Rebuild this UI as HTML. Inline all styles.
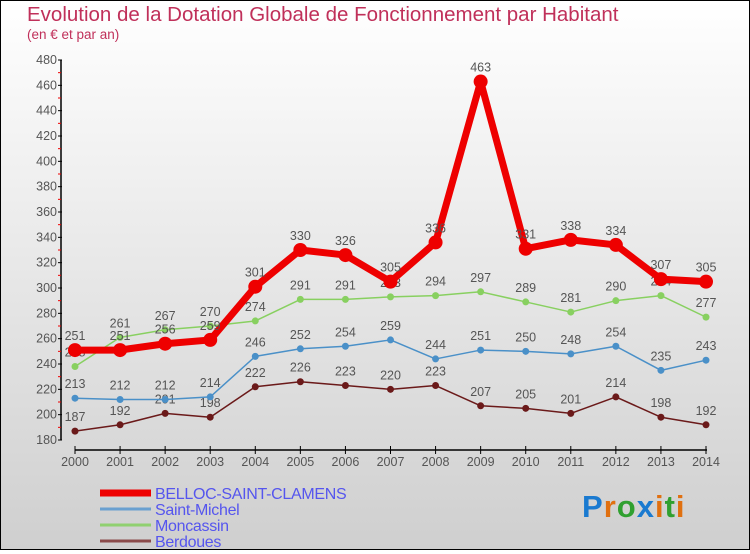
<!DOCTYPE html>
<html><head><meta charset="utf-8"><style>
html,body{margin:0;padding:0}
body{width:750px;height:550px;overflow:hidden;font-family:"Liberation Sans",sans-serif}
#wrap{position:relative;width:748px;height:548px;border:1px solid #000;background:linear-gradient(#ffffff,#cfcfcf)}
</style></head><body>
<div id="wrap">
<svg id="chart" width="748" height="548" viewBox="1 1 748 548"></svg>
</div>
<script>
const years=[2000,2001,2002,2003,2004,2005,2006,2007,2008,2009,2010,2011,2012,2013,2014];
const belloc=[251,251,256,259,301,330,326,305,336,463,331,338,334,307,305];
const stMichel=[213,212,212,214,246,252,254,259,244,251,250,248,254,235,243];
const moncassin=[238,261,267,270,274,291,291,293,294,297,289,281,290,294,277];
const berdoues=[187,192,201,198,222,226,223,220,223,207,205,201,214,198,192];
const yTicks=[180,200,220,240,260,280,300,320,340,360,380,400,420,440,460,480];
const NS="http://www.w3.org/2000/svg";
const svg=document.getElementById('chart');
function X(i){return 75+i*(706-75)/(years.length-1);}
function Y(v){return 440-(v-180)*380/300;}
function mk(t,a,p){const e=document.createElementNS(NS,t);for(const k in a)e.setAttribute(k,a[k]);(p||svg).appendChild(e);return e;}
function txt(x,y,s,a,p){const e=mk('text',Object.assign({x:x,y:y},a),p);e.textContent=s;return e;}
let t=txt(27,21,"Evolution de la Dotation Globale de Fonctionnement par Habitant",{fill:"#c0305a","font-size":"20.5"});


t=txt(27,39,"(en € et par an)",{fill:"#c0305a","font-size":"13.5"});


let ax=mk('line',{x1:61,y1:60,x2:61,y2:440,stroke:"#000","stroke-width":1.5});


yTicks.forEach((v,i)=>{
  mk('line',{x1:58,x2:62,y1:Y(v),y2:Y(v),stroke:"#000"});
  if(i<yTicks.length-1) mk('line',{x1:58,x2:61,y1:Y(v+10),y2:Y(v+10),stroke:"#e00"});
  const l=txt(57,Y(v)+4,v,{fill:"#555","font-size":"12.5","text-anchor":"end"});
  
  
});
ax=mk('line',{x1:75,y1:450,x2:707,y2:450,stroke:"#000","stroke-width":1.5});


years.forEach((y,i)=>{
  mk('line',{x1:X(i),x2:X(i),y1:446,y2:454,stroke:"#000"});
  const l=txt(X(i),466,y,{fill:"#555","font-size":"12.5","text-anchor":"middle"});
  
  
});
function series(data,color,w,r,name){
  const g=mk('g',{});
  
  
  mk('polyline',{points:data.map((v,i)=>X(i)+","+Y(v)).join(" "),fill:"none",stroke:color,"stroke-width":w,"stroke-linejoin":"round"},g);
  data.forEach((v,i)=>{
    const c=mk('circle',{cx:X(i),cy:Y(v),r:r,fill:color},g);
    
    
    const l=txt(X(i),Y(v)-10,v,{fill:"#555","font-size":"12.5","text-anchor":"middle"},g);
    
    
  });
}
series(berdoues,"#6b1a1a",1.5,3.5,"berdoues-series");
series(moncassin,"#88d060",1.5,3.5,"moncassin-series");
series(stMichel,"#4a90c8",1.5,3.5,"saint-michel-series");
series(belloc,"#ee0000",7,7,"belloc-series");
const leg=[["BELLOC-SAINT-CLAMENS","#ee0000",7],["Saint-Michel","#6aa0d0",3],["Moncassin","#90d070",3],["Berdoues","#8a4a4a",3]];
leg.forEach((d,i)=>{
  const y=493+i*16;
  const g=mk('g',{});
  
  
  mk('line',{x1:100,x2:151,y1:y,y2:y,stroke:d[1],"stroke-width":d[2]},g);
  txt(155,y+6,d[0],{fill:"#5555ee","font-size":"16","letter-spacing":"-0.3"},g);
});
const logo=mk('text',{x:582,y:517,"font-size":"31","font-weight":"bold","letter-spacing":"1"});


[["P","#1a7ad0"],["r","#e07010"],["o","#30a030"],["x","#1a7ad0"],["i","#e07010"],["t","#30a030"],["i","#e07010"]].forEach(c=>{const s=mk('tspan',{fill:c[1]},logo);s.textContent=c[0];});
</script>
</body></html>
